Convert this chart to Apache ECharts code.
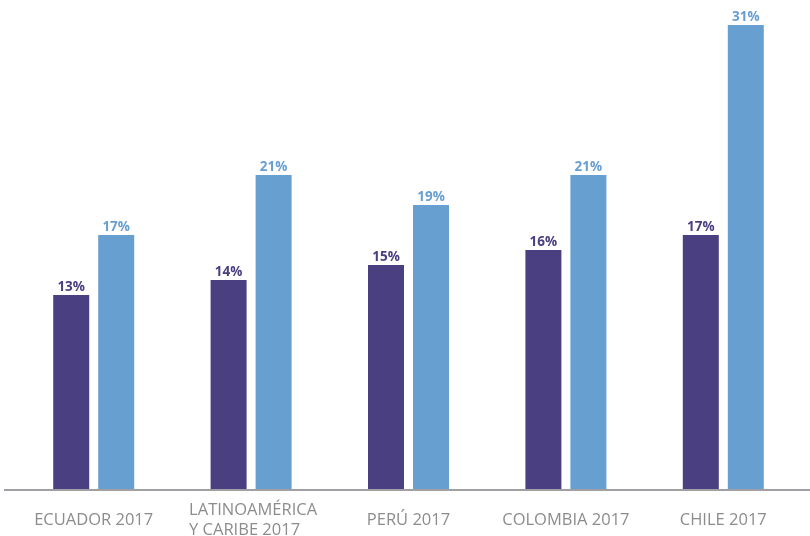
<!DOCTYPE html>
<html>
<head>
<meta charset="utf-8">
<script src="https://cdn.jsdelivr.net/npm/echarts@6/dist/echarts.min.js"></script>
<style>
  html, body { margin: 0; padding: 0; background: #ffffff; }
  #chart { width: 810px; height: 536px; }
</style>
</head>
<body>
<div id="chart"></div>
<script>
// Categories and the two series (percentages)
const categories = ['ECUADOR 2017', 'LATINOAMÉRICA\nY CARIBE 2017', 'PERÚ 2017', 'COLOMBIA 2017', 'CHILE 2017'];
const seriesA = [13, 14, 15, 16, 17];
const seriesB = [17, 21, 19, 21, 31];

const colorA = '#4a3f80';
const colorB = '#689fd1';

const chart = echarts.init(document.getElementById('chart'));

// Multi-line category names are left-aligned inside a centred block
function categoryLabel(value) {
  const lines = value.split('\n');
  if (lines.length > 1) {
    return lines.map(l => '{m|' + l + '}').join('\n');
  }
  return '{s|' + value + '}';
}

const labelFont = { fontFamily: 'Open Sans', fontSize: 16.5, color: '#8c8c8c' };

const valueLabel = (color) => ({
  show: true,
  position: 'top',
  distance: 1,
  formatter: '{c}%',
  fontFamily: 'Open Sans',
  fontWeight: 'bold',
  fontSize: 13.5,
  color: color
});

chart.setOption({
  animation: false,
  backgroundColor: '#ffffff',
  grid: { left: 15, right: 8, top: 10, bottom: 46, containLabel: false, outerBoundsMode: 'none' },
  xAxis: {
    type: 'category',
    data: categories,
    axisLine: { show: false },
    axisTick: { show: false },
    axisLabel: {
      interval: 0,
      margin: 30,
      verticalAlign: 'middle',
      formatter: categoryLabel,
      rich: {
        s: Object.assign({}, labelFont),
        m: Object.assign({ width: 130, align: 'left', lineHeight: 20, padding: [0, 0, 0, 6] }, labelFont)
      }
    }
  },
  yAxis: {
    type: 'value',
    min: 0,
    max: 32,
    show: false,
    splitLine: { show: false }
  },
  series: [
    {
      type: 'bar',
      data: seriesA,
      barWidth: 36,
      barGap: '25%',
      itemStyle: { color: colorA },
      label: valueLabel(colorA)
    },
    {
      type: 'bar',
      data: seriesB,
      barWidth: 36,
      itemStyle: { color: colorB },
      label: valueLabel(colorB)
    }
  ],
  graphic: [
    {
      type: 'rect',
      left: 4,
      top: 489,
      shape: { width: 806, height: 2 },
      style: { fill: '#a0a0a4' },
      z: 10
    }
  ]
});
</script>
</body>
</html>
